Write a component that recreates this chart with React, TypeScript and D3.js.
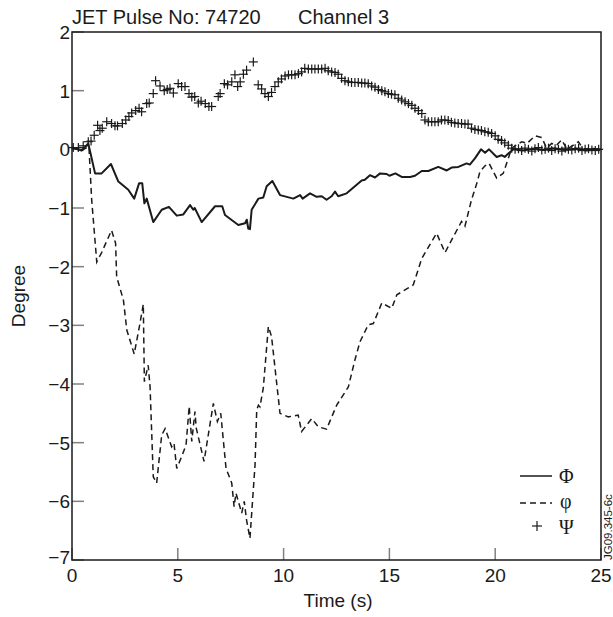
import React from "react";
import * as d3 from "d3";

// ---- Data ----
const titleLeft = "JET Pulse No: 74720";
const titleRight = "Channel 3";
const xTicks = [0, 5, 10, 15, 20, 25];
const yTicks = [2, 1, 0, -1, -2, -3, -4, -5, -6, -7];

// Φ (solid)
const phiTime = [0, 0.46, 0.77, 1.09, 1.4, 1.84, 2.19, 2.66, 2.94, 3.17, 3.32, 3.42, 3.53, 3.84, 4.24, 4.58, 4.95, 5.26, 5.58, 5.73, 5.8, 6.13, 6.76, 7.1, 7.23, 7.86, 8.18, 8.26, 8.33, 8.41, 8.49, 8.81, 9.04, 9.2, 9.47, 9.83, 10.15, 10.46, 10.78, 10.9, 11.25, 11.56, 11.8, 12.03, 12.27, 12.43, 12.58, 12.98, 13.37, 13.69, 13.84, 14.08, 14.32, 14.56, 14.87, 15.0, 15.28, 15.58, 15.98, 16.21, 16.53, 16.84, 17.31, 17.71, 17.94, 18.26, 18.65, 18.8, 19.05, 19.33, 19.52, 19.71, 20.07, 20.3, 20.45, 20.62, 20.86, 21.3, 21.8, 22.3, 22.8, 23.3, 23.8, 24.3, 25];
const phiValue = [0.03, -0.02, 0.1, -0.41, -0.41, -0.25, -0.55, -0.69, -0.84, -0.58, -0.58, -0.92, -0.84, -1.24, -1.03, -0.98, -1.13, -1.11, -0.95, -1.03, -1.0, -1.24, -0.97, -0.97, -1.12, -1.29, -1.26, -1.2, -1.35, -1.36, -1.03, -0.84, -0.82, -0.63, -0.54, -0.78, -0.81, -0.84, -0.78, -0.84, -0.75, -0.81, -0.8, -0.86, -0.8, -0.72, -0.8, -0.75, -0.63, -0.53, -0.52, -0.44, -0.48, -0.41, -0.42, -0.45, -0.41, -0.47, -0.47, -0.45, -0.37, -0.37, -0.3, -0.36, -0.31, -0.3, -0.24, -0.26, -0.15, 0.0, -0.06, 0.0, -0.13, -0.1, -0.13, -0.07, 0.0, -0.02, 0.01, -0.01, 0.02, -0.01, 0.01, -0.02, 0.0];

// φ (dashed)
const varphiTime = [0, 0.46, 0.8, 0.93, 1.17, 1.4, 1.87, 2.06, 2.11, 2.43, 2.59, 2.94, 3.21, 3.37, 3.42, 3.6, 3.69, 3.84, 4.0, 4.24, 4.4, 4.71, 4.82, 4.95, 5.18, 5.39, 5.54, 5.66, 5.81, 5.87, 6.24, 6.68, 6.87, 7.03, 7.28, 7.55, 7.66, 7.75, 8.02, 8.14, 8.25, 8.41, 8.65, 8.73, 8.81, 8.88, 9.04, 9.28, 9.43, 9.83, 10.22, 10.69, 10.85, 11.33, 11.64, 12.03, 12.51, 13.06, 13.37, 13.61, 14.0, 14.24, 14.64, 15.11, 15.35, 16.13, 16.53, 17.23, 17.63, 18.02, 18.41, 18.57, 18.88, 19.13, 19.28, 19.52, 19.71, 20.07, 20.38, 20.78, 21.25, 21.5, 21.88, 22.2, 22.43, 22.67, 22.9, 23.14, 23.4, 23.6, 23.93, 24.17, 24.5, 25];
const varphiValue = [0.03, -0.02, 0.05, -0.86, -1.92, -1.76, -1.38, -1.6, -2.17, -2.57, -3.08, -3.49, -2.97, -2.64, -3.96, -3.68, -4.05, -5.58, -5.69, -4.87, -4.76, -5.07, -5.01, -5.44, -5.24, -5.04, -4.38, -4.98, -4.47, -4.75, -5.32, -4.33, -4.64, -4.5, -5.44, -5.69, -6.09, -5.86, -6.2, -6.0, -6.32, -6.63, -5.38, -4.44, -4.36, -4.39, -4.07, -3.02, -3.19, -4.5, -4.56, -4.53, -4.81, -4.59, -4.73, -4.77, -4.36, -4.05, -3.59, -3.28, -2.99, -2.97, -2.62, -2.71, -2.48, -2.31, -1.86, -1.43, -1.76, -1.49, -1.23, -1.31, -0.86, -0.58, -0.38, -0.28, -0.24, -0.49, -0.41, 0.02, 0.13, 0.1, 0.23, 0.2, 0.02, 0.1, 0.07, 0.16, 0.0, 0.05, 0.13, 0.0, 0.02, 0.0];

// Ψ (+ markers)
const psiTime = [
  0.06, 0.3, 0.53, 0.77, 0.9, 1.05,
  1.21, 1.32, 1.43, 1.64, 1.87, 2.03, 2.15, 2.38, 2.54, 2.69,
  2.82, 3.01, 3.17, 3.29, 3.53, 3.65, 3.84, 3.95, 4.16, 4.36,
  4.5, 4.63, 4.79, 5.02, 5.18, 5.34, 5.53, 5.66, 5.8, 5.97,
  6.1, 6.3, 6.47, 6.6, 6.91, 7.0, 7.2, 7.35, 7.55, 7.7,
  7.83, 7.95, 8.1, 8.25, 8.57, 8.8, 8.96, 9.12, 9.28, 9.43,
  9.59, 9.75, 9.9, 10.07, 10.23, 10.38, 10.54, 10.7, 10.85, 11.0,
  11.17, 11.33, 11.48, 11.64, 11.8, 11.96, 12.11, 12.27, 12.43, 12.58,
  12.74, 12.9, 13.06, 13.21, 13.37, 13.53, 13.69, 13.84, 14.0, 14.16,
  14.32, 14.48, 14.64, 14.79, 14.95, 15.1, 15.26, 15.42, 15.58, 15.74,
  15.9, 16.06, 16.21, 16.37, 16.53, 16.68, 16.84, 17.0, 17.15, 17.31,
  17.46, 17.62, 17.78, 17.93, 18.09, 18.25, 18.41, 18.57, 18.72, 18.88,
  19.04, 19.2, 19.35, 19.51, 19.67, 19.83, 20.0, 20.14, 20.3, 20.45,
  20.62, 20.78, 20.94, 21.1, 21.25, 21.41, 21.57, 21.73, 21.88, 22.04,
  22.2, 22.36, 22.52, 22.67, 22.83, 22.99, 23.15, 23.31, 23.46, 23.62,
  23.78, 23.94, 24.1, 24.25, 24.41, 24.57, 24.73, 24.89,
];
const psiValue = [
  0.03, 0.03, 0.06, 0.13, 0.14, 0.24,
  0.41, 0.32, 0.36, 0.47, 0.44, 0.4, 0.4, 0.44, 0.5, 0.56,
  0.62, 0.66, 0.7, 0.64, 0.78, 0.79, 0.95, 1.17, 1.08, 1.0,
  1.02, 1.04, 0.96, 1.12, 1.07, 1.07, 0.95, 0.89, 0.9, 0.79,
  0.82, 0.78, 0.73, 0.73, 0.9, 0.95, 1.12, 1.1, 1.15, 1.27,
  1.07, 1.15, 1.28, 1.35, 1.49, 1.1, 1.03, 0.95, 0.9, 0.97,
  1.07, 1.15, 1.2, 1.25, 1.27, 1.27, 1.27, 1.29, 1.32, 1.38,
  1.37, 1.37, 1.37, 1.37, 1.37, 1.38, 1.34, 1.32, 1.31, 1.28,
  1.21, 1.17, 1.15, 1.14, 1.14, 1.14, 1.13, 1.13, 1.12, 1.08,
  1.06, 1.02, 1.0, 0.98, 0.95, 0.94, 0.93, 0.87, 0.84, 0.81,
  0.78, 0.75, 0.7, 0.66, 0.61, 0.5, 0.47, 0.47, 0.47, 0.47,
  0.5, 0.5, 0.49, 0.46, 0.45, 0.44, 0.44, 0.43, 0.43, 0.36,
  0.34, 0.33, 0.32, 0.3, 0.29, 0.27, 0.23, 0.17, 0.15, 0.11,
  0.07, 0.02, 0.0, 0.01, -0.02, 0.02, 0.0, -0.03, 0.01, 0.03,
  -0.01, 0.0, 0.02, -0.02, 0.01, 0.0, -0.03, 0.02, 0.0, -0.01,
  0.01, 0.02, -0.02, 0.0, 0.01, -0.01, -0.02, 0.0,
];

const legendLabels = ["Φ", "φ", "Ψ"];

// ---- Layout ----
const W = 613;
const H = 617;
const M = { left: 72, right: 601, top: 32, bottom: 560 };
const SANS = "'Liberation Sans', Arial, Helvetica, sans-serif";
const SERIF = "'Liberation Serif', 'Times New Roman', serif";

export default function App() {
  const x = d3.scaleLinear().domain([0, 25]).range([M.left, M.right]);
  const y = d3.scaleLinear().domain([-7, 2]).range([M.bottom, M.top]);

  const line = d3
    .line<[number, number]>()
    .x((d) => x(d[0]))
    .y((d) => y(d[1]));

  const phiPts: [number, number][] = phiTime.map((t, i) => [t, phiValue[i]]);
  const varphiPts: [number, number][] = varphiTime.map((t, i) => [t, varphiValue[i]]);
  const n = Math.min(psiTime.length, psiValue.length);
  const psiPts: [number, number][] = psiTime.slice(0, n).map((t, i) => [t, psiValue[i]]);

  const tickColor = "#808080";
  const ink = "#1a1a1a";
  const ms = 4.5;

  return (
    <svg
      width={W}
      height={H}
      style={{ position: "absolute", left: 0, top: 0, background: "#fff" }}
      xmlns="http://www.w3.org/2000/svg"
    >
      <rect x={0} y={0} width={W} height={H} fill="#fff" />
      {/* title */}
      <text x={M.left} y={24} fontFamily={SANS} fontSize={20} fill={ink}>
        {titleLeft}
      </text>
      <text x={298} y={24} fontFamily={SANS} fontSize={20} fill={ink}>
        {titleRight}
      </text>

      {/* ticks */}
      {yTicks.map((v) => (
        <g key={"y" + v}>
          <line x1={M.left} x2={M.left + 12} y1={y(v)} y2={y(v)} stroke={tickColor} strokeWidth={1.5} />
          <text
            x={M.left - 2}
            y={y(v) - (v === -7 ? 3 : 0)}
            dy="0.36em"
            textAnchor="end"
            fontFamily={SANS}
            fontSize={19}
            fill={ink}
          >
            {v < 0 ? "\u2212" + Math.abs(v) : String(v)}
          </text>
        </g>
      ))}
      {xTicks.map((v) => (
        <g key={"x" + v}>
          <line x1={x(v)} x2={x(v)} y1={M.bottom} y2={M.bottom - 12} stroke={tickColor} strokeWidth={1.5} />
          <text x={x(v)} y={582} textAnchor="middle" fontFamily={SANS} fontSize={19} fill={ink}>
            {v}
          </text>
        </g>
      ))}

      {/* series */}
      <path d={line(varphiPts) || ""} fill="none" stroke={ink} strokeWidth={1.5} strokeDasharray="6,4" />
      <path d={line(phiPts) || ""} fill="none" stroke={ink} strokeWidth={2} strokeLinejoin="round" />
      <g stroke={ink} strokeWidth={1.2}>
        {psiPts.map((d, i) => (
          <g key={"p" + i}>
            <line x1={x(d[0]) - ms} x2={x(d[0]) + ms} y1={y(d[1])} y2={y(d[1])} />
            <line x1={x(d[0])} x2={x(d[0])} y1={y(d[1]) - ms} y2={y(d[1]) + ms} />
          </g>
        ))}
      </g>

      {/* frame */}
      <rect
        x={M.left}
        y={M.top}
        width={M.right - M.left}
        height={M.bottom - M.top}
        fill="none"
        stroke={ink}
        strokeWidth={1.5}
      />

      {/* axis labels */}
      <text x={338} y={607} textAnchor="middle" fontFamily={SANS} fontSize={19} fill={ink}>
        Time (s)
      </text>
      <text
        transform={`translate(25, 296) rotate(-90)`}
        textAnchor="middle"
        fontFamily={SANS}
        fontSize={19}
        fill={ink}
      >
        Degree
      </text>

      {/* legend */}
      <line x1={520} x2={552} y1={476} y2={476} stroke={ink} strokeWidth={1.5} />
      <text x={559} y={483} fontFamily={SERIF} fontSize={20} fill={ink}>
        {legendLabels[0]}
      </text>
      <line x1={520} x2={552} y1={503} y2={503} stroke={ink} strokeWidth={1.5} strokeDasharray="6,4" />
      <text x={560} y={508} fontFamily={SERIF} fontSize={20} fill={ink}>
        {legendLabels[1]}
      </text>
      <g stroke={ink} strokeWidth={1.2}>
        <line x1={537 - 5} x2={537 + 5} y1={526} y2={526} />
        <line x1={537} x2={537} y1={521} y2={531} />
      </g>
      <text x={559} y={534} fontFamily={SERIF} fontSize={20} fill={ink}>
        {legendLabels[2]}
      </text>

      {/* id */}
      <text
        transform={`translate(612, 560) rotate(-90)`}
        fontFamily={SANS}
        fontSize={11.5}
        fill={ink}
      >
        JG09.345-6c
      </text>
    </svg>
  );
}
